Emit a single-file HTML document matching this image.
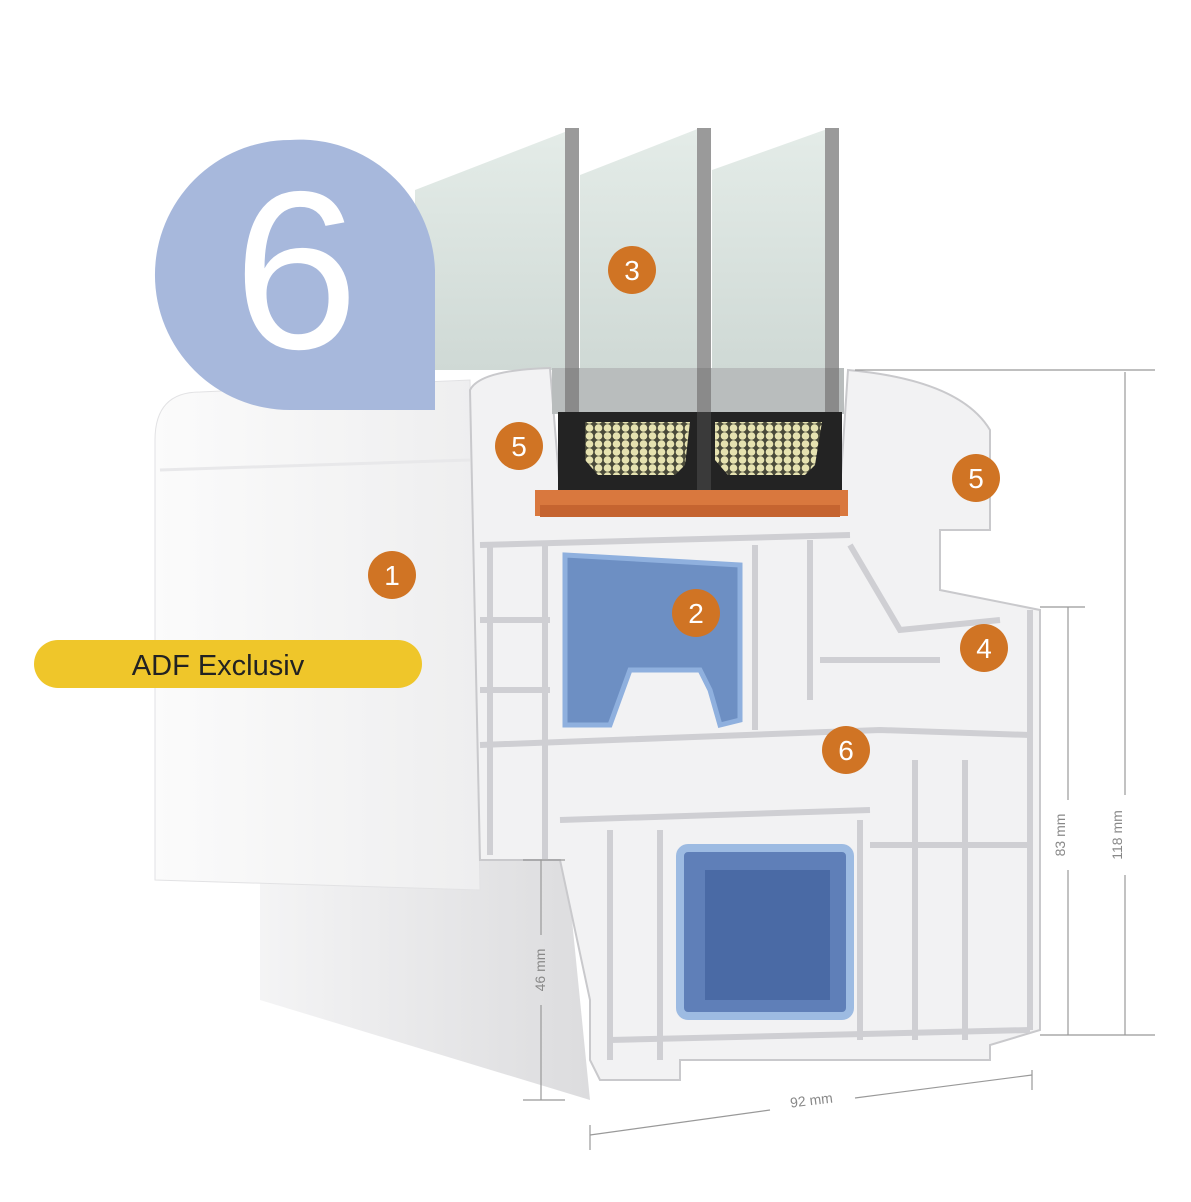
<!DOCTYPE html>
<html><head><meta charset="utf-8"><style>html,body{margin:0;padding:0;background:#fff}svg{display:block}</style></head>
<body>
<svg width="1191" height="1202" viewBox="0 0 1191 1202" xmlns="http://www.w3.org/2000/svg" font-family="Liberation Sans, sans-serif">
<defs>
<linearGradient id="glass" x1="0" y1="0" x2="0" y2="1"><stop offset="0" stop-color="#e4ece8"/><stop offset="1" stop-color="#cfd9d5"/></linearGradient>
<linearGradient id="blk" x1="0" y1="0" x2="1" y2="0"><stop offset="0" stop-color="#fbfbfb"/><stop offset="1" stop-color="#eeeeef"/></linearGradient>
<linearGradient id="low" x1="0" y1="0" x2="1" y2="0"><stop offset="0" stop-color="#f4f4f5"/><stop offset="1" stop-color="#dcdcde"/></linearGradient>
<pattern id="dots" width="9" height="8" patternUnits="userSpaceOnUse"><rect width="9" height="8" fill="#4a4a3a"/><circle cx="4.5" cy="4" r="3.8" fill="#e6e2b0"/></pattern>
</defs>
<polygon points="415,190 570,130 570,370 415,370" fill="url(#glass)"/>
<polygon points="580,175 700,128 700,370 580,370" fill="url(#glass)"/>
<polygon points="712,170 830,128 830,370 712,370" fill="url(#glass)"/>
<rect x="565" y="128" width="14" height="250" fill="#9a9a9a"/>
<rect x="697" y="128" width="14" height="250" fill="#9a9a9a"/>
<rect x="825" y="128" width="14" height="250" fill="#9a9a9a"/>
<polygon points="260,800 560,800 590,1100 260,1000" fill="url(#low)"/>
<path d="M155,440 Q155,392 200,392 L470,380 L480,890 L155,880 Z" fill="url(#blk)" stroke="#e2e2e4"/>
<path d="M160,470 L470,460" stroke="#e8e8ea" stroke-width="3"/>
<path d="M470,390 Q480,370 550,368 L560,490 L840,490 L848,370 Q960,380 990,430 L990,530 L940,530 L940,590 L1040,610 L1040,1030 L990,1045 L990,1060 L680,1060 L680,1080 L600,1080 L590,1060 L590,1000 L560,860 L480,860 Z" fill="#f2f2f3" stroke="#c9c9cc" stroke-width="2"/>
<g stroke="#cfcfd3" stroke-width="6" fill="none">
<path d="M480,545 L850,535"/><path d="M480,745 L880,730 L1030,735"/><path d="M560,820 L870,810"/><path d="M610,1040 L1030,1030"/>
<path d="M490,545 L490,855"/><path d="M545,545 L545,860"/><path d="M755,545 L755,730"/><path d="M810,540 L810,700"/>
<path d="M860,820 L860,1040"/><path d="M915,760 L915,1040"/><path d="M965,760 L965,1040"/><path d="M1030,610 L1030,1030"/>
<path d="M610,830 L610,1060"/><path d="M660,830 L660,1060"/><path d="M480,620 L550,620"/><path d="M480,690 L550,690"/>
<path d="M850,545 L900,630 L1000,620"/><path d="M820,660 L940,660"/><path d="M870,845 L1030,845"/>
</g>
<!-- glass continuation behind frame -->
<rect x="552" y="368" width="292" height="46" fill="#b9bdbd"/>
<rect x="565" y="368" width="14" height="46" fill="#8a8a8a"/><rect x="697" y="368" width="14" height="46" fill="#8a8a8a"/><rect x="825" y="368" width="14" height="46" fill="#8a8a8a"/>
<rect x="558" y="412" width="284" height="80" fill="#232323"/>
<polygon points="585,422 690,422 685,465 675,475 598,475 585,460" fill="url(#dots)"/>
<polygon points="715,422 822,422 815,465 805,475 728,475 715,460" fill="url(#dots)"/>
<rect x="697" y="412" width="14" height="80" fill="#3a3a3a"/>
<rect x="535" y="490" width="313" height="26" fill="#d9783e"/>
<rect x="540" y="505" width="300" height="12" fill="#c56430"/>
<path d="M565,555 L740,565 L740,720 L720,725 L710,690 L700,670 L630,670 L610,725 L565,725 Z" fill="#6d8fc3" stroke="#8fb0de" stroke-width="5"/>
<rect x="680" y="848" width="170" height="168" rx="8" fill="#5f7fb8" stroke="#9dbbe2" stroke-width="8"/>
<polygon points="705,870 830,870 830,1000 705,1000" fill="#4a6aa5"/>
<path d="M290,140 A135,135 0 1 0 290,410 L435,410 L435,270 A135,135 0 0 0 290,140 Z" fill="#a7b8dc"/>
<text x="296" y="348" font-size="225" fill="#fff" text-anchor="middle">6</text>
<rect x="34" y="640" width="388" height="48" rx="24" fill="#efc62a"/>
<text x="218" y="675" font-size="29" fill="#222" text-anchor="middle">ADF Exclusiv</text>
<g fill="#d07424"><circle cx="392" cy="575" r="24"/><circle cx="696" cy="613" r="24"/><circle cx="632" cy="270" r="24"/><circle cx="984" cy="648" r="24"/><circle cx="519" cy="446" r="24"/><circle cx="976" cy="478" r="24"/><circle cx="846" cy="750" r="24"/></g>
<g fill="#fff" font-size="28" text-anchor="middle"><text x="392" y="585">1</text><text x="696" y="623">2</text><text x="632" y="280">3</text><text x="984" y="658">4</text><text x="519" y="456">5</text><text x="976" y="488">5</text><text x="846" y="760">6</text></g>
<g stroke="#999" stroke-width="1.2" fill="none">
<path d="M855,370 L1155,370"/><path d="M1040,607 L1085,607"/><path d="M1040,1035 L1155,1035"/>
<path d="M1125,372 L1125,795"/><path d="M1125,875 L1125,1035"/>
<path d="M1068,607 L1068,800"/><path d="M1068,870 L1068,1035"/>
<path d="M523,860 L565,860"/><path d="M523,1100 L565,1100"/><path d="M541,860 L541,935"/><path d="M541,1005 L541,1100"/>
<path d="M590,1125 L590,1150"/><path d="M1032,1070 L1032,1090"/><path d="M590,1135 L770,1110"/><path d="M855,1098 L1032,1075"/>
</g>
<g fill="#888" font-size="14">
<text transform="translate(1122,835) rotate(-90)" text-anchor="middle">118 mm</text>
<text transform="translate(1065,835) rotate(-90)" text-anchor="middle">83 mm</text>
<text transform="translate(545,970) rotate(-90)" text-anchor="middle">46 mm</text>
<text transform="translate(812,1105) rotate(-7)" text-anchor="middle">92 mm</text>
</g>
</svg>
</body></html>
